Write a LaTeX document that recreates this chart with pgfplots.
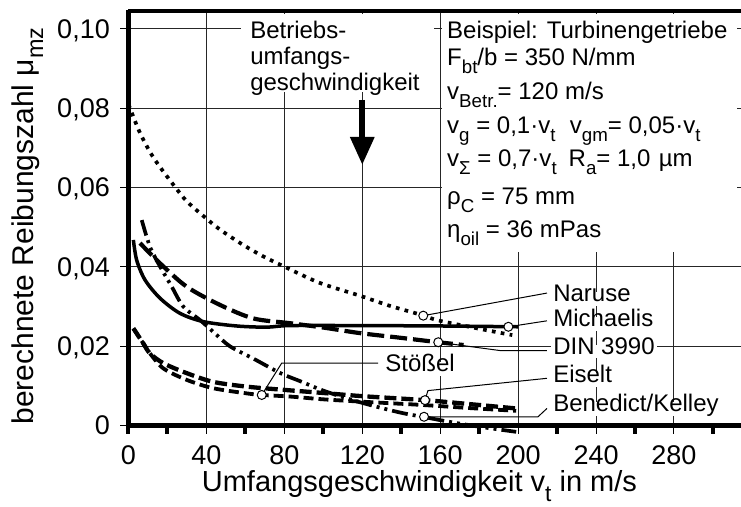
\documentclass[border=0pt]{standalone}
\usepackage{fontspec}
\setmainfont{Liberation Sans}
\usepackage{pgfplots}
\pgfplotsset{compat=1.18}
\usetikzlibrary{arrows.meta}
\newcommand{\fsA}{\fontsize{24}{28}\selectfont}
\newcommand{\fsT}{\fontsize{27}{30}\selectfont}
\newcommand{\fsL}{\fontsize{29}{33}\selectfont}
\newcommand{\fsY}{\fontsize{30}{34}\selectfont}
\makeatletter
\newcommand{\sub}[1]{\raisebox{-0.33em}{\fontsize{\the\dimexpr0.78\dimexpr\f@size pt\relax\relax}{0}\selectfont #1}}
\makeatother
\begin{document}
\begin{tikzpicture}
\begin{axis}[
  at={(0,0)}, anchor=south west,
  scale only axis, width=612.5pt, height=414.2pt,
  xmin=0, xmax=314.4, ymin=0, ymax=0.10446,
  clip=false,
  axis line style={draw=none},
  tick pos=left,
  xtick={0,40,80,120,160,200,240,280},
  xticklabels={0,40,80,120,160,200,240,280},
  minor xtick={0,20,60,100,140,180,220,260,300},
  ytick={0,0.02,0.04,0.06,0.08,0.1},
  yticklabels={0,{0,02},{0,04},{0,06},{0,08},{0,10}},
  grid=major,
  major grid style={black!85, line width=1pt},
  tick align=outside,
  major tick length=8pt, minor tick length=8pt,
  every major tick/.style={black, line width=1pt},
  every minor tick/.style={black, line width=4pt},
  xticklabel style={font=\fsT, anchor=base, inner sep=0pt, yshift=-30.5pt},
  yticklabel style={font=\fsT, anchor=base east, inner sep=0pt, xshift=-10.5pt, yshift=-9.3pt},
  xlabel={Umfangsgeschwindigkeit v\sub{t} in m/s},
  xlabel style={font=\fsL, at={(axis description cs:0.1195,-0.1598)}, anchor=base west, inner sep=0pt},
  ylabel={berechnete Reibungszahl μ\sub{mz}},
  ylabel style={font=\fsY, at={(axis description cs:-0.1554,0.4817)}, anchor=base, inner sep=0pt},
]
\coordinate (SW) at (rel axis cs:0,0);
% Naruse (dotted)
\addplot[black, line width=3.7pt, dash pattern=on 3.7pt off 5.3pt, smooth] coordinates {
(0,0.0810) (3,0.0772) (6,0.0737) (11,0.0690) (16,0.0653) (24,0.0601) (30,0.0565)
(39,0.0526) (47,0.0494) (59,0.0455) (69,0.0427) (79,0.0403) (98,0.0360) (119,0.0327)
(134,0.0302) (151,0.0278) (159,0.0265) (180,0.0244) (197,0.0228)};
% Michaelis (solid)
\addplot[black, line width=3.5pt, smooth] coordinates {
(2.5,0.0468) (4.2,0.0417) (8.5,0.0367) (16.2,0.0321) (26.4,0.0283) (38.4,0.0262)
(55.5,0.0251) (70.9,0.0248) (82.9,0.0252) (120,0.0252) (160,0.0251) (200,0.0249)};
% DIN 3990 (long dash)
\addplot[black, line width=4.2pt, dash pattern=on 17pt off 6pt, smooth] coordinates {
(5.9,0.0460) (16.2,0.0409) (29.9,0.0350) (47,0.0304) (64.1,0.0270) (82.9,0.0258)
(100,0.0247) (118.8,0.0233) (140,0.0221) (159,0.0210) (172,0.0203)};
% Benedict/Kelley (dash-dot-dot)
\addplot[black, line width=3.7pt, dash pattern=on 16pt off 5pt on 3pt off 5pt on 3pt off 5pt, smooth] coordinates {
(6.8,0.0518) (11,0.0451) (16.2,0.0401) (22,0.0352) (28.1,0.0300) (36.7,0.0266)
(44,0.0234) (52,0.0200) (64,0.0169) (78,0.0132) (88,0.0112) (100,0.0088) (115,0.0064)
(130,0.0044) (141,0.0031) (152,0.0021) (165,0.0009) (180,-0.0003) (199,-0.0016)};
% Eiselt (dashed)
\addplot[black, line width=4.3pt, dash pattern=on 12pt off 5pt, smooth] coordinates {
(2.5,0.0245) (7.6,0.0207) (11,0.0182) (17.9,0.0157) (29.9,0.0132) (43.5,0.0110)
(60.7,0.0098) (79.5,0.0090) (100,0.0082) (120,0.0074) (152,0.0064) (175,0.0054) (199,0.0043)};
% Stoessel (dashed)
\addplot[black, line width=3.8pt, dash pattern=on 10pt off 5pt, smooth] coordinates {
(2.5,0.0245) (7.6,0.0207) (11,0.0182) (17.9,0.0144) (29.9,0.0115) (43.5,0.0094)
(60.7,0.0081) (68.4,0.0077) (83,0.0073) (100,0.0066) (120,0.0060) (150,0.0052)
(175,0.0044) (199,0.0037)};
% leader lines
\draw[black, line width=1pt] (axis cs:151.3,0.0277) -- (axis cs:214.8,0.0334);
\draw[black, line width=1pt] (axis cs:195,0.0249) -- (axis cs:214.8,0.0264);
\draw[black, line width=1pt] (axis cs:159,0.0210) -- (axis cs:190.7,0.0189) -- (axis cs:214.8,0.0189);
\draw[black, line width=1pt] (axis cs:152.2,0.0064) -- (axis cs:153.7,0.0088) -- (axis cs:214.8,0.0119);
\draw[black, line width=1pt] (axis cs:151.7,0.0022) -- (axis cs:210.2,0.0022) -- (axis cs:214.8,0.0043);
\draw[black, line width=1pt] (axis cs:68.4,0.0077) -- (axis cs:78.6,0.0157) -- (axis cs:128.1,0.0157);
% circle markers on the curves
\addplot[only marks, mark=*, mark size=4.5pt, mark options={fill=white, draw=black, line width=1pt}] coordinates {
(151.3,0.0277) (195,0.0249) (159,0.0210) (152.2,0.0064) (151.7,0.0022) (68.4,0.0077)};
% curve labels
\begin{scope}[every node/.style={font=\fsA, fill=white, inner sep=2pt, text height=0.75em, text depth=0.22em, anchor=base west}]
\node at (axis cs:216.9,0.03122) {Naruse};
\node at (axis cs:216.9,0.02492) {Michaelis};
\node at (axis cs:216.9,0.01803) {DIN 3990};
\node at (axis cs:216.9,0.01079) {Eiselt};
\node at (axis cs:216.9,0.00348) {Benedict/Kelley};
\node at (axis cs:130.7,0.01357) {Stößel};
\end{scope}
% info box
\fill[white] (axis cs:160.9,0.0437) rectangle (axis cs:312.4,0.1038);
\begin{scope}[every node/.style={font=\fsA, inner sep=0pt, anchor=base west}]
\node at (axis cs:163.5,0.09766) {Beispiel: Turbinengetriebe};
\node at (axis cs:163.5,0.09074) {F\sub{bt}/b = 350 N/mm};
\node at (axis cs:163.5,0.08227) {v\sub{Betr.}= 120 m/s};
\node at (axis cs:163.5,0.07370) {v\sub{g} = 0,1·v\sub{t}\hspace{0.6em}v\sub{gm}= 0,05·v\sub{t}};
\node at (axis cs:163.5,0.06527) {v\sub{Σ} = 0,7·v\sub{t}\hspace{0.5em}R\sub{a}= 1,0\hspace{0.35em}µm};
\node at (axis cs:163.5,0.05561) {ρ\sub{C} = 75 mm};
\node at (axis cs:163.5,0.04747) {η\sub{oil} = 36 mPas};
\end{scope}
% Betriebs box
\fill[white] (axis cs:57.8,0.0841) rectangle (axis cs:156.8,0.1038);
\begin{scope}[every node/.style={font=\fsA, inner sep=0pt, anchor=base west}]
\node at (axis cs:62.4,0.09766) {Betriebs-};
\node at (axis cs:62.4,0.09092) {umfangs-};
\node at (axis cs:62.4,0.08449) {geschwindigkeit};
\end{scope}
\draw[black, line width=6pt, -{Triangle[width=23pt,length=28pt]}] (axis cs:120,0.0821) -- (axis cs:120,0.0657);
% frame
\draw[black, line width=4.5pt] (rel axis cs:0,-0.005) -- (rel axis cs:0,1.004);
\draw[black, line width=4pt] (rel axis cs:0,1) -- (rel axis cs:1,1);
\draw[black, line width=5pt] (rel axis cs:-0.004,0) -- (rel axis cs:1,0);
\end{axis}
\pgfresetboundingbox
\path ([shift={(-128.5pt,-80.5pt)}]SW) rectangle ([shift={(612.5pt,425.5pt)}]SW);
\end{tikzpicture}
\end{document}
